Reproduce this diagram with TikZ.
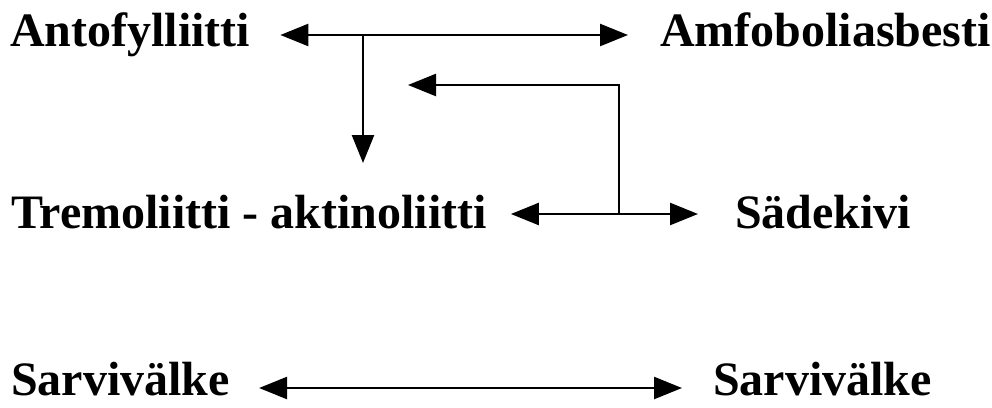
\documentclass[tikz,border=0pt]{standalone}
\usepackage{fontspec}
\setmainfont{Liberation Serif}
\usetikzlibrary{arrows.meta}

\begin{document}
\begin{tikzpicture}[x=1pt,y=-1pt,
    mineral/.style={anchor=base west,inner sep=0pt,font=\fontsize{48}{57}\selectfont\bfseries},
    arr/.style={line width=2.5pt,-{Triangle[length=28pt,width=22pt]}},
    biarr/.style={line width=2.5pt,{Triangle[length=28pt,width=22pt]}-{Triangle[length=28pt,width=22pt]}}]
\useasboundingbox (0,0) rectangle (992,407);
% names
\node[mineral] (anto) at (10,46) {Antofylliitti};
\node[mineral] (amfo) at (660,46) {Amfoboliasbesti};
\node[mineral] (tremo) at (11,228) {Tremoliitti - aktinoliitti};
\node[mineral] (sade) at (735,228) {Sädekivi};
\node[mineral] (sarvi1) at (11,395) {Sarvivälke};
\node[mineral] (sarvi2) at (713,395) {Sarvivälke};
% arrows
\draw[biarr] ([xshift=30pt,yshift=11pt]anto.base east) -- ([xshift=-32pt,yshift=11pt]amfo.base west);
\coordinate (fork1) at (363,35);
\coordinate (tip1) at (363,163);
\draw[arr] (fork1) -- (tip1);
\draw[biarr] ([xshift=24pt,yshift=14pt]tremo.base east) -- ([xshift=-37pt,yshift=14pt]sade.base west);
\coordinate (fork2) at (619,214);
\coordinate (tip2) at (408,85);
\draw[arr,line cap=rect] (fork2) |- (tip2);
\draw[biarr] ([xshift=29pt,yshift=7pt]sarvi1.base east) -- ([xshift=-31pt,yshift=7pt]sarvi2.base west);
\end{tikzpicture}
\end{document}
